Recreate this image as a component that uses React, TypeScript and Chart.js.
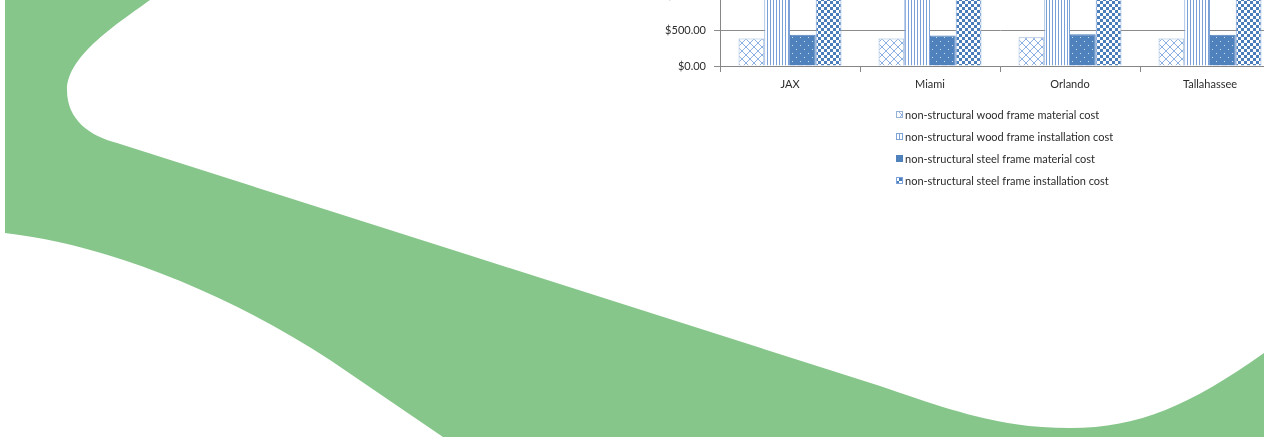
import { useEffect, useRef } from "react";
import { Chart, registerables } from "chart.js";

Chart.register(...registerables);

// Non-structural framing cost comparison by city (USD)
const cities = ["JAX", "Miami", "Orlando", "Tallahassee"];
const seriesNames = [
  "non-structural wood frame material cost",
  "non-structural wood frame installation cost",
  "non-structural steel frame material cost",
  "non-structural steel frame installation cost",
];
const woodMaterial = [391, 391, 409, 391];
const woodInstallation = [1460, 1430, 1490, 1450];
const steelMaterial = [445, 436, 454, 445];
const steelInstallation = [1330, 1300, 1360, 1320];
const yTickStep = 500;
const yMax = 2000;

const FONT = "Lato, 'Open Sans', sans-serif";
const GREEN = "#86c68a";
const TEXT = "#2b2b2b";

function makePatterns(ctx: CanvasRenderingContext2D) {
  // diagonal cross-hatch on white
  const cross = document.createElement("canvas");
  cross.width = 8;
  cross.height = 8;
  {
    const c = cross.getContext("2d")!;
    c.fillStyle = "#ffffff";
    c.fillRect(0, 0, 8, 8);
    c.strokeStyle = "#8db0e2";
    c.lineWidth = 1;
    c.beginPath();
    c.moveTo(-1, -1);
    c.lineTo(9, 9);
    c.moveTo(9, -1);
    c.lineTo(-1, 9);
    c.stroke();
  }
  // narrow vertical stripes
  const stripes = document.createElement("canvas");
  stripes.width = 3;
  stripes.height = 4;
  {
    const c = stripes.getContext("2d")!;
    c.fillStyle = "#ffffff";
    c.fillRect(0, 0, 3, 4);
    c.fillStyle = "#7aa0d8";
    c.fillRect(0, 0, 1, 4);
  }
  // solid blue with sparse light dots
  const dots = document.createElement("canvas");
  dots.width = 8;
  dots.height = 8;
  {
    const c = dots.getContext("2d")!;
    c.fillStyle = "#4f81bd";
    c.fillRect(0, 0, 8, 8);
    c.fillStyle = "#d2def2";
    c.fillRect(2, 2, 1, 1);
    c.fillRect(6, 6, 1, 1);
  }
  // small checkerboard
  const checker = document.createElement("canvas");
  checker.width = 6;
  checker.height = 6;
  {
    const c = checker.getContext("2d")!;
    c.fillStyle = "#ffffff";
    c.fillRect(0, 0, 6, 6);
    c.fillStyle = "#4a7ebb";
    c.fillRect(0, 0, 3, 3);
    c.fillRect(3, 3, 3, 3);
  }
  return [
    ctx.createPattern(cross, "repeat")!,
    ctx.createPattern(stripes, "repeat")!,
    ctx.createPattern(dots, "repeat")!,
    ctx.createPattern(checker, "repeat")!,
  ];
}

// Stacked single-column legend, left aligned, below the category axis
const columnLegend = {
  id: "columnLegend",
  afterDraw(chart: any) {
    const { ctx, chartArea } = chart;
    const datasets = chart.data.datasets;
    ctx.save();
    ctx.font = `11px ${FONT}`;
    const box = 7;
    const gap = 2;
    let maxW = 0;
    datasets.forEach((d: any) => {
      maxW = Math.max(maxW, ctx.measureText(d.label).width);
    });
    const blockW = box + gap + maxW;
    const center = (chartArea.left + chartArea.right) / 2 + 5;
    const left = Math.round(center - blockW / 2);
    const firstRow = chartArea.bottom + 49;
    const rowGap = 22;
    datasets.forEach((d: any, i: number) => {
      const y = firstRow + i * rowGap;
      ctx.fillStyle = d.backgroundColor;
      ctx.fillRect(left, y - 4, box, box);
      ctx.strokeStyle = d.borderColor;
      ctx.lineWidth = 1;
      ctx.strokeRect(left + 0.5, y - 3.5, box - 1, box - 1);
      ctx.fillStyle = TEXT;
      ctx.textBaseline = "middle";
      ctx.textAlign = "left";
      ctx.fillText(d.label, left + box + gap, y);
    });
    ctx.restore();
  },
};

function money(v: number) {
  return "$" + v.toLocaleString("en-US", { minimumFractionDigits: 2, maximumFractionDigits: 2 });
}

function CostChart() {
  const ref = useRef<HTMLCanvasElement | null>(null);
  useEffect(() => {
    const canvas = ref.current!;
    const ctx = canvas.getContext("2d")!;
    const fills = makePatterns(ctx);
    const borders = ["#95b3d7", "#7ea3d8", "#4f81bd", "#7ea3d8"];
    const values = [woodMaterial, woodInstallation, steelMaterial, steelInstallation];
    const chart = new Chart(canvas, {
      type: "bar",
      data: {
        labels: cities,
        datasets: values.map((v, i) => ({
          label: seriesNames[i],
          data: v,
          backgroundColor: fills[i] as any,
          borderColor: borders[i],
          borderWidth: 1,
          categoryPercentage: 0.735,
          barPercentage: 1,
        })),
      },
      options: {
        responsive: false,
        animation: false,
        devicePixelRatio: 1,
        layout: { padding: { left: 10, right: 10, top: 8, bottom: 130 } },
        plugins: {
          legend: { display: false },
          tooltip: { enabled: false },
        },
        scales: {
          x: {
            type: "category",
            offset: true,
            grid: {
              display: true,
              offset: true,
              drawOnChartArea: false,
              drawTicks: true,
              tickLength: 6,
              color: "#868686",
            },
            border: { display: true, color: "#868686", width: 1 },
            ticks: {
              padding: 6,
              color: TEXT,
              font: { family: FONT, size: 11 },
              maxRotation: 0,
            },
            afterFit(scale: any) {
              scale.height = 30;
            },
          },
          y: {
            min: 0,
            max: yMax,
            grid: {
              color: "#8c8c8c",
              tickLength: 6,
              drawTicks: true,
            },
            border: { display: true, color: "#868686", width: 1 },
            ticks: {
              stepSize: yTickStep,
              padding: 8,
              color: TEXT,
              font: { family: FONT, size: 11 },
              callback: (v: any) => money(Number(v)),
            },
            afterFit(scale: any) {
              scale.width = 60;
            },
          },
        },
      },
      plugins: [columnLegend],
    });
    return () => chart.destroy();
  }, []);
  return <canvas ref={ref} width={640} height={315} style={{ display: "block" }} />;
}

export default function App() {
  return (
    <div
      style={{
        position: "fixed",
        left: 0,
        top: 0,
        width: 1264,
        height: 441,
        overflow: "hidden",
        background: "#ffffff",
      }}
    >
      <svg width={1264} height={441} style={{ position: "absolute", left: 0, top: 0 }}>
        <path
          fill={GREEN}
          d="M 5 0 L 150 0 C 120 22, 67 55, 67 90 C 67 120, 90 136, 117 143 L 880 386 C 950 410, 1000 428, 1070 428 C 1140 428, 1190 405, 1264 353 L 1264 437 L 443 437 L 330 360 C 230 295, 110 245, 5 233 Z"
        />
      </svg>
      <div style={{ position: "absolute", left: 650, top: -89 }}>
        <CostChart />
      </div>
    </div>
  );
}
